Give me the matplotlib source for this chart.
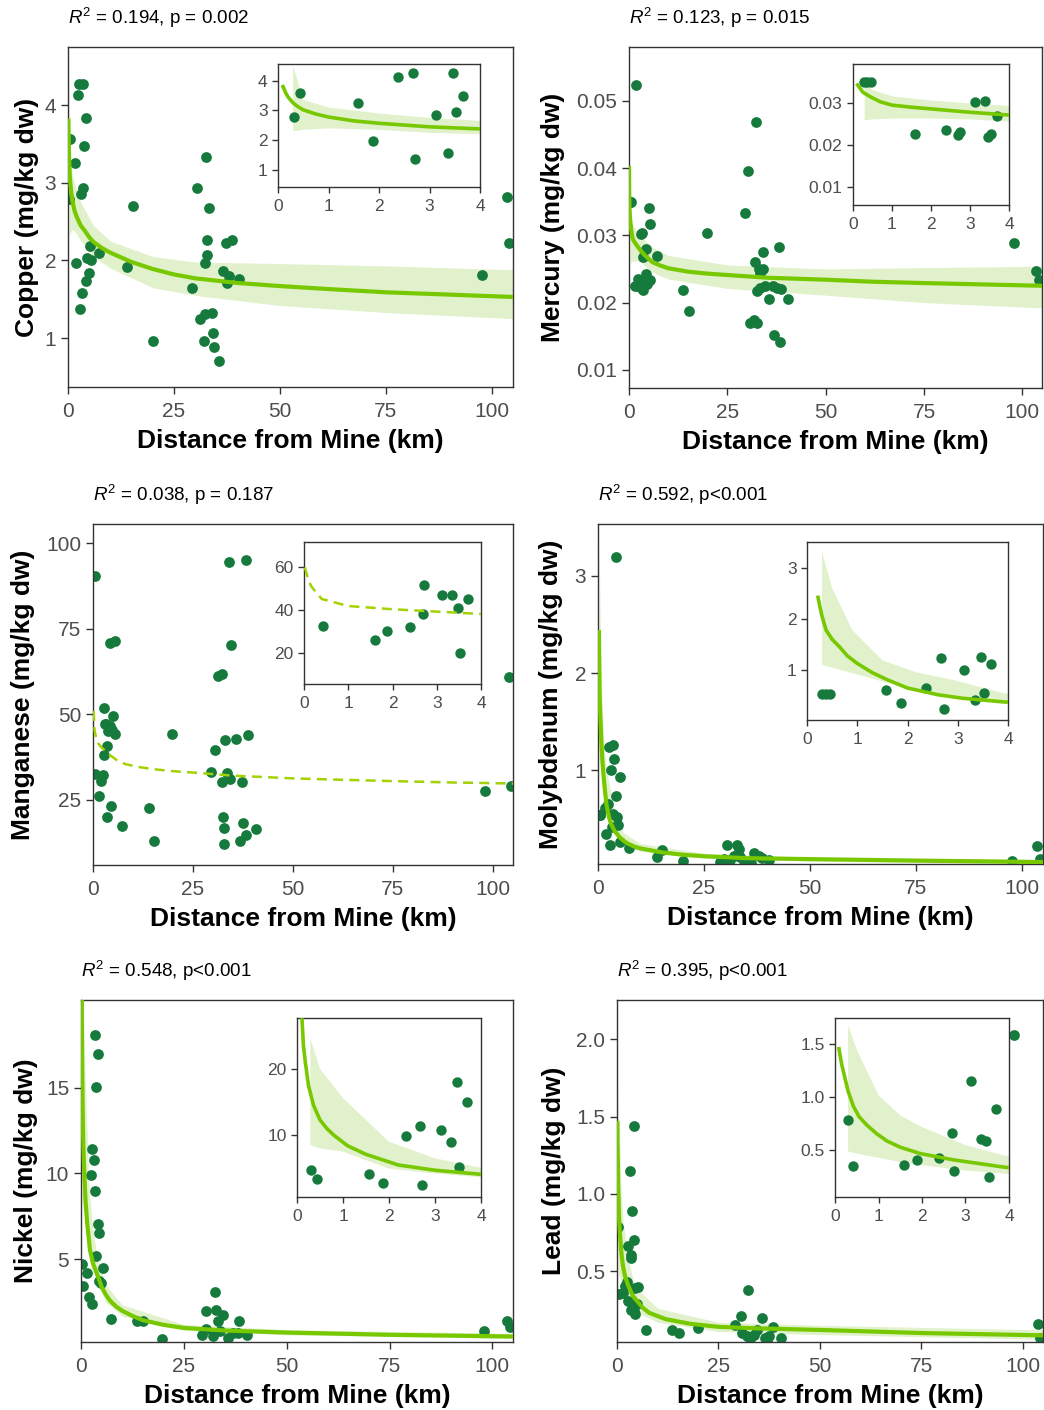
import matplotlib
matplotlib.use('Agg')
import matplotlib.pyplot as plt

plt.rcParams['font.family'] = ['Liberation Sans', 'DejaVu Sans']
plt.rcParams['mathtext.fontset'] = 'custom'
plt.rcParams['mathtext.rm'] = 'Liberation Sans'
plt.rcParams['mathtext.it'] = 'Liberation Sans:italic'
plt.rcParams['mathtext.bf'] = 'Liberation Sans:bold'

# ---- data (distance km, concentration mg/kg dw) ----
cu_x = [0.31, 0.43, 1.59, 1.88, 2.37, 2.68, 2.72, 3.12, 3.36, 3.47, 3.52, 3.67,
        4.3, 4.2, 4.9, 4.5, 5.5, 5.3, 7.3, 15.3, 14.0, 20.0, 29.3, 30.4, 32.5, 33.3,
        32.9, 32.8, 32.4, 31.2, 32.4, 34.0, 32.0, 34.1, 34.5, 35.7, 36.6, 37.4, 38.0,
        37.3, 38.7, 40.4, 97.8, 103.5, 104.1]
cu_y = [2.79, 3.57, 3.26, 1.97, 4.13, 4.27, 1.38, 2.86, 1.58, 4.27, 2.94, 3.47,
        3.84, 1.74, 1.84, 2.03, 2.00, 2.18, 2.10, 2.70, 1.92, 0.96, 1.65, 2.93, 3.33, 2.68,
        2.27, 2.07, 1.97, 1.24, 1.31, 1.32, 0.96, 1.06, 0.89, 0.70, 1.86, 1.71, 1.80,
        2.23, 2.27, 1.76, 1.81, 2.82, 2.23]
cu_fit_x = [0.1, 0.15, 0.2, 0.3, 0.4, 0.5, 0.75, 1, 1.5, 2, 3, 4, 5, 6, 8, 10, 15, 20,
            25, 30, 40, 50, 62, 75, 90, 105]
cu_fit_y = [3.80, 3.60, 3.45, 3.25, 3.12, 3.02, 2.88, 2.78, 2.65, 2.57, 2.45, 2.38,
            2.30, 2.24, 2.16, 2.10, 1.98, 1.89, 1.82, 1.77, 1.71, 1.67, 1.63, 1.59,
            1.56, 1.53]
cu_band_x = [0.3, 0.5, 1, 2, 3, 4, 6, 10, 20, 30, 50, 75, 105]
cu_band_lo = [2.30, 2.35, 2.40, 2.35, 2.25, 2.20, 2.05, 1.90, 1.65, 1.55, 1.42, 1.33, 1.25]
cu_band_hi = [4.50, 3.35, 3.10, 2.90, 2.75, 2.65, 2.45, 2.25, 2.05, 1.98, 1.96, 1.93, 1.88]

hg_x = [0.27, 0.37, 0.46, 1.59, 2.38, 2.68, 2.74, 3.12, 3.38, 3.46, 3.53, 3.68, 1.7,
        4.3, 4.6, 5.3, 5.1, 5.4, 4.2, 7.1, 13.7, 15.2, 19.9, 29.4, 30.3, 32.2, 32.0,
        33.1, 34.1, 34.1, 33.2, 32.5, 33.2, 34.5, 30.7, 31.8, 32.5, 35.6, 36.6, 37.6,
        38.7, 36.8, 38.3, 38.1, 40.4, 97.9, 103.6, 104.2]
hg_y = [0.0350, 0.0350, 0.0350, 0.0225, 0.0235, 0.0223, 0.0231, 0.0302, 0.0304, 0.0219,
        0.0225, 0.0268, 0.0523,
        0.0242, 0.0228, 0.0233, 0.0341, 0.0317, 0.0280, 0.0269, 0.0218, 0.0187, 0.0304,
        0.0333, 0.0396, 0.0469, 0.0260, 0.0250, 0.0250, 0.0275, 0.0244, 0.0217, 0.0222,
        0.0224, 0.0170, 0.0174, 0.0169, 0.0205, 0.0224, 0.0221, 0.0220, 0.0152, 0.0142,
        0.0282, 0.0205, 0.0288, 0.0247, 0.0234]
hg_fit_x = [0.02, 0.05, 0.12, 0.25, 0.44, 0.7, 1, 1.5, 2, 3, 3.9, 5, 6, 8, 10, 15, 20,
            25, 35, 50, 62, 75, 90, 105]
hg_fit_y = [0.0400, 0.0365, 0.0342, 0.0325, 0.0314, 0.0302, 0.0294, 0.0289, 0.0285,
            0.0277, 0.0271, 0.0265, 0.0260, 0.0255, 0.0251, 0.0246, 0.0243, 0.0241,
            0.0237, 0.0234, 0.0231, 0.0229, 0.0227, 0.0225]
hg_band_x = [0.3, 0.5, 1, 2, 3, 4, 6, 10, 25, 50, 75, 105]
hg_band_lo = [0.0258, 0.0260, 0.0262, 0.0262, 0.0260, 0.0255, 0.0245, 0.0235, 0.0221,
              0.0211, 0.0200, 0.0192]
hg_band_hi = [0.0345, 0.0330, 0.0315, 0.0305, 0.0298, 0.0292, 0.0282, 0.0270, 0.0256,
              0.0250, 0.0252, 0.0254]

mn_x = [0.43, 1.60, 1.88, 2.39, 2.69, 2.72, 3.12, 3.35, 3.49, 3.52, 3.70, 0.6,
        4.2, 5.4, 5.0, 4.3, 4.8, 5.6, 4.6, 7.3, 13.9, 15.2, 19.8, 29.4, 30.6, 31.3, 32.3,
        33.1, 35.7, 38.8, 34.0, 38.3, 34.4, 32.5, 32.7, 32.7, 32.3, 33.5, 34.2, 37.3,
        36.7, 37.5, 38.3, 40.7, 98.1, 104.0, 104.4]
mn_y = [32.7, 26.2, 30.5, 32.4, 38.1, 51.8, 47.1, 47.1, 40.9, 20.0, 45.1, 90.5,
        70.8, 71.3, 49.6, 46.5, 45.5, 44.2, 23.2, 17.4, 22.6, 12.9, 44.2, 33.3, 39.6, 61.2,
        61.7, 42.4, 42.9, 43.9, 94.6, 95.1, 70.3, 20.0, 16.8, 12.0, 30.1, 32.8, 31.1, 30.1,
        12.9, 18.4, 14.7, 16.4, 27.7, 61.0, 29.2]
mn_fit_x = [0.02, 0.1, 0.17, 0.4, 1, 2, 3, 4, 6, 8, 11, 15, 20, 25, 35, 50, 62, 75, 90, 105]
mn_fit_y = [60.0, 54.0, 51.0, 45.3, 42.0, 40.5, 39.4, 38.3, 36.6, 35.5, 34.7, 34.0,
            33.4, 33.0, 32.1, 31.3, 30.9, 30.5, 30.1, 29.8]

mo_x = [0.29, 0.37, 0.45, 1.58, 1.88, 2.36, 2.67, 2.72, 3.12, 3.35, 3.47, 3.52, 3.67,
        4.25, 5.3, 4.3, 4.5, 4.7, 5.3, 7.2, 13.9, 15.1, 20.1, 30.5, 32.8, 33.2, 32.0,
        29.7, 31.2, 33.6, 36.8, 37.9, 38.7, 40.3, 28.9, 34.5, 36.0, 97.6, 103.7, 104.3]
mo_y = [0.54, 0.54, 0.54, 0.61, 0.35, 0.66, 1.24, 0.24, 1.00, 0.42, 1.26, 0.55, 1.12,
        3.19, 0.93, 0.74, 0.52, 0.44, 0.27, 0.20, 0.11, 0.18, 0.07, 0.23, 0.24, 0.19, 0.12,
        0.09, 0.08, 0.11, 0.15, 0.12, 0.10, 0.08, 0.06, 0.07, 0.05, 0.07, 0.22, 0.09]
mo_fit_x = [0.22, 0.26, 0.3, 0.38, 0.5, 0.65, 0.8, 1, 1.3, 1.6, 2, 2.6, 3.1, 3.9, 5, 6,
            7, 8.5, 10, 12.5, 15, 20, 25, 35, 50, 75, 105]
mo_fit_y = [2.42, 2.22, 2.05, 1.78, 1.60, 1.45, 1.28, 1.13, 0.95, 0.81, 0.65, 0.52,
            0.45, 0.38, 0.32, 0.28, 0.25, 0.22, 0.20, 0.18, 0.16, 0.135, 0.12, 0.10,
            0.09, 0.075, 0.06]
mo_band_x = [0.3, 0.5, 0.9, 1.5, 2.2, 2.9, 3.9, 6, 10, 25, 50, 105]
mo_band_lo = [1.10, 1.05, 0.94, 0.78, 0.62, 0.50, 0.35, 0.24, 0.17, 0.10, 0.07, 0.04]
mo_band_hi = [3.30, 2.60, 1.78, 1.19, 0.95, 0.81, 0.55, 0.36, 0.25, 0.15, 0.11, 0.085]

ni_x = [0.30, 0.43, 1.57, 1.88, 2.37, 2.68, 2.71, 3.12, 3.34, 3.47, 3.53, 3.69,
        4.1, 4.2, 4.4, 5.4, 4.4, 4.9, 7.3, 13.7, 15.1, 19.8, 30.3, 32.5, 32.9, 34.4, 33.3,
        30.5, 29.3, 32.1, 33.7, 35.7, 36.9, 38.4, 38.2, 40.3, 98.0, 103.6, 104.2]
ni_y = [4.70, 3.43, 4.19, 2.83, 9.90, 11.41, 2.42, 10.76, 8.99, 18.08, 5.20, 15.05,
        16.95, 7.04, 6.5, 4.5, 3.72, 3.6, 1.52, 1.42, 1.42, 0.35, 2.0, 3.1, 2.05, 1.75, 1.42,
        0.93, 0.58, 0.54, 0.83, 0.39, 0.70, 1.42, 0.70, 0.58, 0.8, 1.4, 1.07]
ni_fit_x = [0.11, 0.14, 0.18, 0.25, 0.36, 0.5, 0.65, 0.8, 1.1, 1.5, 2.2, 3.0, 3.9, 5,
            6, 7, 8.5, 10, 12.5, 15, 20, 25, 35, 50, 75, 105]
ni_fit_y = [27.4, 23.5, 21.1, 17.5, 14.5, 12.3, 11.0, 10.0, 8.4, 7.1, 5.5, 4.7, 4.15,
            3.4, 2.95, 2.6, 2.25, 2.0, 1.7, 1.45, 1.18, 1.0, 0.85, 0.73, 0.6, 0.5]
ni_band_x = [0.29, 0.5, 1, 2, 3, 3.9, 6, 10, 25, 50, 105]
ni_band_lo = [8.5, 8.0, 7.5, 4.95, 4.2, 3.7, 2.5, 1.7, 0.85, 0.6, 0.38]
ni_band_hi = [24.6, 20.0, 15.6, 9.0, 6.5, 5.2, 3.5, 2.35, 1.2, 0.9, 0.68]

pb_x = [0.31, 0.42, 1.59, 1.88, 2.38, 2.69, 2.73, 3.12, 3.36, 3.48, 3.53, 3.69,
        4.2, 4.1, 5.1, 4.5, 4.4, 4.1, 5.0, 7.2, 13.6, 15.2, 19.9, 32.3, 30.5, 35.8, 29.2,
        30.9, 32.1, 32.9, 33.7, 34.6, 36.6, 37.4, 38.5, 40.5, 37.0, 97.9, 103.7, 104.3]
pb_y = [0.783, 0.352, 0.358, 0.406, 0.431, 0.664, 0.305, 1.151, 0.604, 0.585, 0.249, 0.887,
        1.44, 0.70, 0.40, 0.39, 0.22, 0.24, 0.29, 0.12, 0.12, 0.10, 0.13, 0.38, 0.21, 0.20,
        0.15, 0.10, 0.08, 0.06, 0.09, 0.12, 0.07, 0.08, 0.14, 0.07, 0.05, 2.03, 0.16, 0.07]
pb_fit_x = [0.09, 0.15, 0.23, 0.3, 0.42, 0.55, 0.73, 0.95, 1.19, 1.5, 1.96, 2.73, 3.92,
            5.5, 6.5, 8, 10, 12, 15, 18, 25, 35, 50, 75, 105]
pb_fit_y = [1.46, 1.32, 1.18, 1.06, 0.92, 0.82, 0.74, 0.66, 0.59, 0.53, 0.47, 0.41, 0.34,
            0.29, 0.26, 0.23, 0.21, 0.19, 0.175, 0.16, 0.14, 0.13, 0.12, 0.10, 0.085]
pb_band_x = [0.3, 0.5, 1, 1.5, 2, 3, 3.9, 6, 10, 25, 50, 105]
pb_band_lo = [0.49, 0.47, 0.43, 0.39, 0.36, 0.31, 0.28, 0.22, 0.17, 0.11, 0.09, 0.06]
pb_band_hi = [1.68, 1.45, 1.02, 0.83, 0.72, 0.55, 0.45, 0.36, 0.26, 0.17, 0.15, 0.12]

x_ticks = [0, 25, 50, 75, 100]
inset_x_ticks = [0, 1, 2, 3, 4]

DOT = '#157a3c'
LINE = '#78c800'
DASH = '#a4d200'
BAND = '#a8d86a'
TICKC = '#4d4d4d'
FRAME = '#333333'

W, H = 1044, 1410
fig = plt.figure(figsize=(W / 100, H / 100), dpi=100)


def box(l, t, r, b):
    return [l / W, 1 - b / H, (r - l) / W, (b - t) / H]


def style(ax, size, length, xpad):
    for s in ax.spines.values():
        s.set_color(FRAME)
        s.set_linewidth(1.0)
    ax.tick_params(labelsize=size, labelcolor=TICKC, color=FRAME, length=length,
                   width=1.0, pad=3.5)
    ax.tick_params(axis='x', pad=xpad)


def cut(xs, ys, lo):
    keep = [(a, b) for a, b in zip(xs, ys) if a >= lo]
    return [a for a, _ in keep], [b for _, b in keep]


def panel(mbox, ibox, x, y, fx, fy, band, ylim, yt, ytl, iylim, iyt, iytl,
          ylabel, ylabel_x, title, dashed=False, main_min=0.0, inset_min=0.0):
    ax = fig.add_axes(box(*mbox))
    ax.scatter(x, y, s=60, color=DOT, linewidths=0, zorder=2)
    if band is not None:
        ax.fill_between(band[0], band[1], band[2], color=BAND, alpha=0.35,
                        linewidth=0, zorder=1)
    mfx, mfy = cut(fx, fy, main_min)
    if dashed:
        ax.plot(mfx, mfy, color=DASH, lw=1.8, ls=(0, (4, 2.5)), zorder=3)
    else:
        ax.plot(mfx, mfy, color=LINE, lw=3, zorder=3)
    ax.set_xlim(0, 105)
    ax.set_ylim(*ylim)
    ax.set_xticks(x_ticks)
    ax.set_yticks(yt)
    ax.set_yticklabels(ytl)
    style(ax, 15, 5, 6)

    l, t, r, b = mbox
    fig.text(l / W, 1 - (t - 29) / H, title, fontsize=13.5, ha='left', va='center')
    fig.text((l + r) / 2 / W, 1 - (b + 54) / H, 'Distance from Mine (km)',
             fontsize=19, fontweight='bold', ha='center', va='center')
    fig.text(ylabel_x / W, 1 - (t + b) / 2 / H, ylabel, fontsize=19,
             fontweight='bold', rotation=90, ha='center', va='center')

    ins = fig.add_axes(box(*ibox))
    xs = [a for a in x if a <= 4]
    ys = [b_ for a, b_ in zip(x, y) if a <= 4]
    ins.scatter(xs, ys, s=56, color=DOT, linewidths=0, zorder=2)
    if band is not None:
        ins.fill_between(band[0], band[1], band[2], color=BAND, alpha=0.35,
                         linewidth=0, zorder=1)
    ifx, ify = cut(fx, fy, inset_min)
    if dashed:
        ins.plot(ifx, ify, color=DASH, lw=1.8, ls=(0, (4, 2.5)), zorder=3)
    else:
        ins.plot(ifx, ify, color=LINE, lw=2.6, zorder=3)
    ins.set_xlim(0, 4)
    ins.set_ylim(*iylim)
    ins.set_xticks(inset_x_ticks)
    ins.set_yticks(iyt)
    ins.set_yticklabels(iytl)
    style(ins, 12.5, 4, 4.5)


panel((68, 47, 513, 387), (278, 64, 480, 187), cu_x, cu_y, cu_fit_x, cu_fit_y,
      (cu_band_x, cu_band_lo, cu_band_hi), (0.37, 4.75), [1, 2, 3, 4], ['1', '2', '3', '4'],
      (0.43, 4.56), [1, 2, 3, 4], ['1', '2', '3', '4'],
      'Copper (mg/kg dw)', 27, r'$R^2$ = 0.194, p = 0.002')

panel((629, 47, 1042, 388), (853, 64, 1009, 205), hg_x, hg_y, hg_fit_x, hg_fit_y,
      (hg_band_x, hg_band_lo, hg_band_hi), (0.0073, 0.058),
      [0.01, 0.02, 0.03, 0.04, 0.05], ['0.01', '0.02', '0.03', '0.04', '0.05'],
      (0.0056, 0.0392), [0.01, 0.02, 0.03], ['0.01', '0.02', '0.03'],
      'Mercury (mg/kg dw)', 553, r'$R^2$ = 0.123, p = 0.015', inset_min=0.1)

panel((93, 524, 513, 865), (304, 542, 481, 684), mn_x, mn_y, mn_fit_x, mn_fit_y,
      None, (6.0, 105.6), [25, 50, 75, 100], ['25', '50', '75', '100'],
      (5.6, 71.9), [20, 40, 60], ['20', '40', '60'],
      'Manganese (mg/kg dw)', 23, r'$R^2$ = 0.038, p = 0.187', dashed=True,
      main_min=0.17)

panel((598, 524, 1043, 864), (807, 542, 1008, 720), mo_x, mo_y, mo_fit_x, mo_fit_y,
      (mo_band_x, mo_band_lo, mo_band_hi), (0.04, 3.53), [1, 2, 3], ['1', '2', '3'],
      (0.026, 3.5), [1, 2, 3], ['1', '2', '3'],
      'Molybdenum (mg/kg dw)', 551, r'$R^2$ = 0.592, p<0.001')

panel((81, 1000, 513, 1342), (297, 1018, 481, 1197), ni_x, ni_y, ni_fit_x, ni_fit_y,
      (ni_band_x, ni_band_lo, ni_band_hi), (0.18, 20.1), [5, 10, 15], ['5', '10', '15'],
      (0.66, 27.7), [10, 20], ['10', '20'],
      'Nickel (mg/kg dw)', 26, r'$R^2$ = 0.548, p<0.001')

panel((617, 1000, 1043, 1342), (835, 1018, 1009, 1197), pb_x, pb_y, pb_fit_x, pb_fit_y,
      (pb_band_x, pb_band_lo, pb_band_hi), (0.042, 2.255),
      [0.5, 1.0, 1.5, 2.0], ['0.5', '1.0', '1.5', '2.0'],
      (0.06, 1.75), [0.5, 1.0, 1.5], ['0.5', '1.0', '1.5'],
      'Lead (mg/kg dw)', 554, r'$R^2$ = 0.395, p<0.001')

fig.savefig('out.png', dpi=100)
